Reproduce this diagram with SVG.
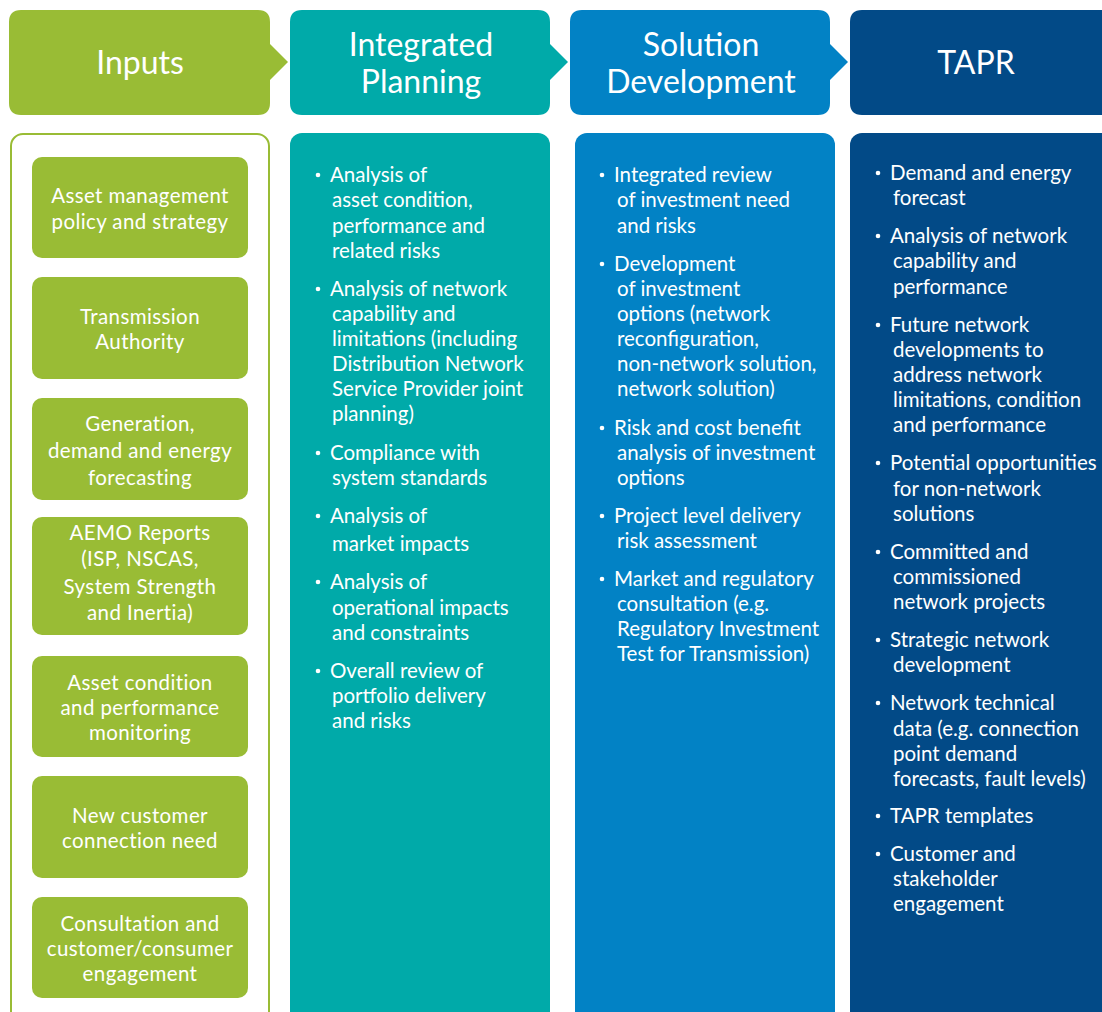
<svg xmlns="http://www.w3.org/2000/svg" width="1102" height="1012" viewBox="0 0 1102 1012">
<style>
.hd{font-family:Lato,"Liberation Sans",sans-serif;font-size:32px;fill:#fff;text-anchor:middle}
.in{font-family:Lato,"Liberation Sans",sans-serif;font-size:20.5px;fill:#fff;text-anchor:middle;letter-spacing:0.4px}
.bl{font-family:Lato,"Liberation Sans",sans-serif;font-size:20.5px;fill:#fff}
.bl text:nth-child(odd){}
.g{fill:#99BC35}.t{fill:#00AAA9}.b{fill:#0282C5}.n{fill:#024A87}
.dot{fill:#fff}
</style>
<defs><circle id="d" r="2.3" class="dot"/></defs>
<rect width="1102" height="1012" fill="#fff"/>
<g id="hdr-inputs">
<path class="g" d="M21,10 H258 Q270,10 270,22 V44 L288,62 L270,80 V103 Q270,115 258,115 H21 Q9,115 9,103 V22 Q9,10 21,10 Z"/>
<text class="hd" x="140" y="74">Inputs</text>
</g>
<g id="hdr-ip">
<path class="t" d="M302,10 H538 Q550,10 550,22 V44 L568,62 L550,80 V103 Q550,115 538,115 H302 Q290,115 290,103 V22 Q290,10 302,10 Z"/>
<text class="hd" x="421" y="56">Integrated</text>
<text class="hd" x="421" y="93">Planning</text>
</g>
<g id="hdr-sd">
<path class="b" d="M582,10 H818 Q830,10 830,22 V44 L848,62 L830,80 V103 Q830,115 818,115 H582 Q570,115 570,103 V22 Q570,10 582,10 Z"/>
<text class="hd" x="701" y="56">Solution</text>
<text class="hd" x="701" y="93">Development</text>
</g>
<g id="hdr-tapr">
<path class="n" d="M862,10 H1102 V115 H862 Q850,115 850,103 V22 Q850,10 862,10 Z"/>
<text class="hd" x="976" y="74">TAPR</text>
</g>
<g id="col-inputs">
<rect x="11" y="134" width="258" height="900" rx="12" fill="none" stroke="#99BC35" stroke-width="2"/>
</g>
<g id="in1"><rect class="g" x="32" y="157" width="216" height="101" rx="10"/>
<text class="in" x="140" y="203">Asset management</text><text class="in" x="140" y="229">policy and strategy</text></g>
<g id="in2"><rect class="g" x="32" y="277" width="216" height="102" rx="10"/>
<text class="in" x="140" y="324">Transmission</text><text class="in" x="140" y="349">Authority</text></g>
<g id="in3"><rect class="g" x="32" y="398" width="216" height="102" rx="10"/>
<text class="in" x="140" y="431">Generation,</text><text class="in" x="140" y="458">demand and energy</text><text class="in" x="140" y="485">forecasting</text></g>
<g id="in4"><rect class="g" x="32" y="517" width="216" height="118" rx="10"/>
<text class="in" x="140" y="540">AEMO Reports</text><text class="in" x="140" y="566">(ISP, NSCAS,</text><text class="in" x="140" y="594">System Strength</text><text class="in" x="140" y="620">and Inertia)</text></g>
<g id="in5"><rect class="g" x="32" y="656" width="216" height="101" rx="10"/>
<text class="in" x="140" y="690">Asset condition</text><text class="in" x="140" y="715">and performance</text><text class="in" x="140" y="740">monitoring</text></g>
<g id="in6"><rect class="g" x="32" y="776" width="216" height="102" rx="10"/>
<text class="in" x="140" y="823">New customer</text><text class="in" x="140" y="848">connection need</text></g>
<g id="in7"><rect class="g" x="32" y="897" width="216" height="101" rx="10"/>
<text class="in" x="140" y="931">Consultation and</text><text class="in" x="140" y="956">customer/consumer</text><text class="in" x="140" y="981">engagement</text></g>
<g id="col-ip">
<rect class="t" x="290" y="133" width="260" height="900" rx="12"/>
<use href="#d" x="318" y="175"/><use href="#d" x="318" y="289"/><use href="#d" x="318" y="453"/><use href="#d" x="318" y="516"/><use href="#d" x="318" y="582"/><use href="#d" x="318" y="671"/>
<g class="bl">
<text x="330" y="182">Analysis of</text>
<text x="332" y="207">asset condition,</text>
<text x="332" y="233">performance and</text>
<text x="332" y="258">related risks</text>
<text x="330" y="296">Analysis of network</text>
<text x="332" y="321">capability and</text>
<text x="332" y="346">limitations (including</text>
<text x="332" y="371">Distribution Network</text>
<text x="332" y="396">Service Provider joint</text>
<text x="332" y="421">planning)</text>
<text x="330" y="460">Compliance with</text>
<text x="332" y="485">system standards</text>
<text x="330" y="523">Analysis of</text>
<text x="332" y="551">market impacts</text>
<text x="330" y="589">Analysis of</text>
<text x="332" y="615">operational impacts</text>
<text x="332" y="640">and constraints</text>
<text x="330" y="678">Overall review of</text>
<text x="332" y="703">portfolio delivery</text>
<text x="332" y="728">and risks</text>
</g>
</g>
<g id="col-sd">
<rect class="b" x="575" y="133" width="260" height="900" rx="12"/>
<use href="#d" x="602" y="175"/><use href="#d" x="602" y="264"/><use href="#d" x="602" y="428"/><use href="#d" x="602" y="516"/><use href="#d" x="602" y="579"/>
<g class="bl">
<text x="614" y="182">Integrated review</text>
<text x="617" y="207">of investment need</text>
<text x="617" y="233">and risks</text>
<text x="614" y="271">Development</text>
<text x="617" y="296">of investment</text>
<text x="617" y="321">options (network</text>
<text x="617" y="346">reconfiguration,</text>
<text x="617" y="371">non-network solution,</text>
<text x="617" y="396">network solution)</text>
<text x="614" y="435">Risk and cost benefit</text>
<text x="617" y="460">analysis of investment</text>
<text x="617" y="485">options</text>
<text x="614" y="523">Project level delivery</text>
<text x="617" y="548">risk assessment</text>
<text x="614" y="586">Market and regulatory</text>
<text x="617" y="611">consultation (e.g.</text>
<text x="617" y="636">Regulatory Investment</text>
<text x="617" y="661">Test for Transmission)</text>
</g>
</g>
<g id="col-tapr">
<rect class="n" x="850" y="133" width="264" height="900" rx="12"/>
<use href="#d" x="878" y="173"/><use href="#d" x="878" y="236"/><use href="#d" x="878" y="325"/><use href="#d" x="878" y="463"/><use href="#d" x="878" y="552"/><use href="#d" x="878" y="640"/><use href="#d" x="878" y="703"/><use href="#d" x="878" y="816"/><use href="#d" x="878" y="854"/>
<g class="bl">
<text x="890" y="180">Demand and energy</text>
<text x="893" y="205">forecast</text>
<text x="890" y="243">Analysis of network</text>
<text x="893" y="268">capability and</text>
<text x="893" y="294">performance</text>
<text x="890" y="332">Future network</text>
<text x="893" y="357">developments to</text>
<text x="893" y="382">address network</text>
<text x="893" y="407">limitations, condition</text>
<text x="893" y="432">and performance</text>
<text x="890" y="470">Potential opportunities</text>
<text x="893" y="496">for non-network</text>
<text x="893" y="521">solutions</text>
<text x="890" y="559">Committed and</text>
<text x="893" y="584">commissioned</text>
<text x="893" y="609">network projects</text>
<text x="890" y="647">Strategic network</text>
<text x="893" y="672">development</text>
<text x="890" y="710">Network technical</text>
<text x="893" y="736">data (e.g. connection</text>
<text x="893" y="761">point demand</text>
<text x="893" y="786">forecasts, fault levels)</text>
<text x="890" y="823">TAPR templates</text>
<text x="890" y="861">Customer and</text>
<text x="893" y="886">stakeholder</text>
<text x="893" y="911">engagement</text>
</g>
</g>
<g id="connectors"></g>
</svg>
